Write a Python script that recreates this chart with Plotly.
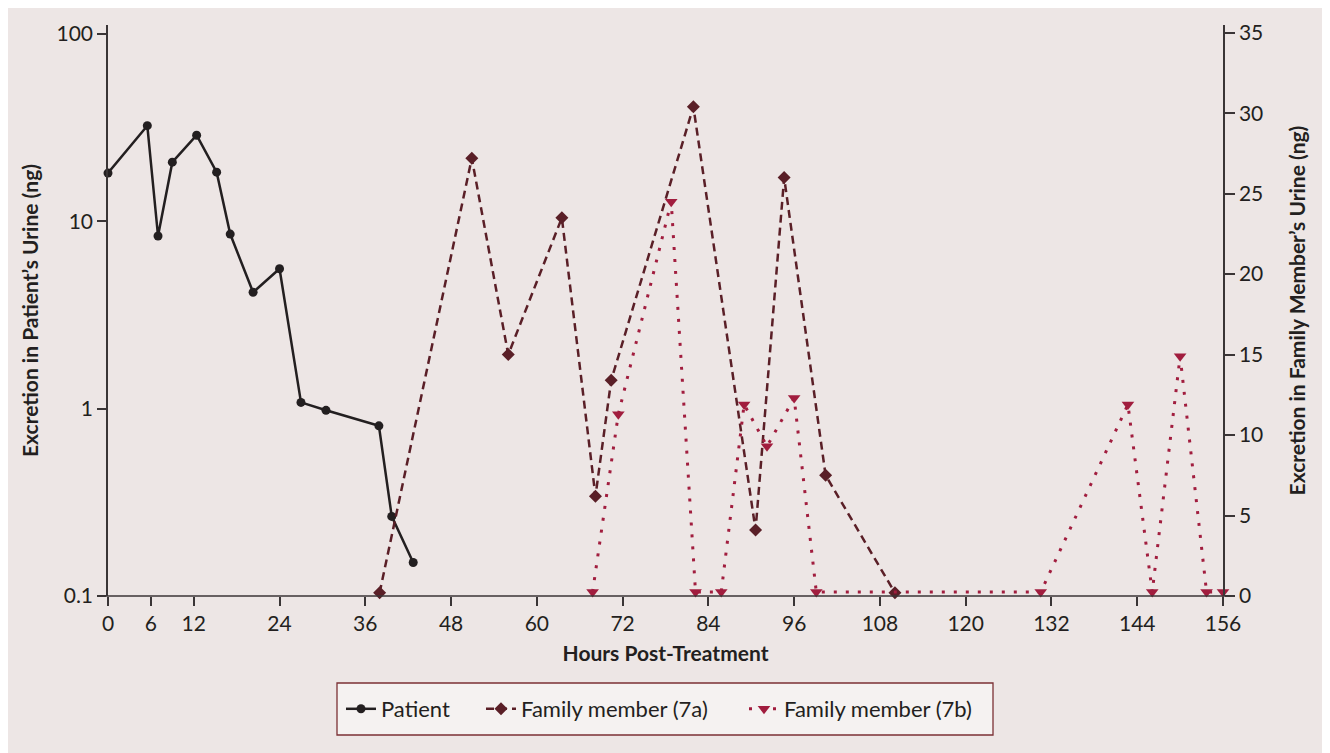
import plotly.graph_objects as go

# ---------------- data ----------------
patient_hours = [0, 5.5, 7, 9, 12.4, 15.2, 17.1, 20.3, 24, 27, 30.5, 37.9, 39.7, 42.7]
patient_ng = [18.1, 32.4, 8.35, 20.7, 28.8, 18.3, 8.55, 4.18, 5.58, 1.08, 0.98, 0.81, 0.266, 0.151]

fm7a_hours = [38, 50.9, 56, 63.5, 68.2, 70.4, 81.9, 90.6, 94.6, 100.4, 110.1]
fm7a_ng = [0.2, 27.2, 15.0, 23.5, 6.2, 13.4, 30.4, 4.1, 26.0, 7.5, 0.2]

fm7b_hours = [67.8, 71.4, 78.8, 82.2, 85.8, 89.0, 92.2, 96.0, 99.1, 130.5, 142.7, 146.1, 150.0, 153.7, 156.0]
fm7b_ng = [0.25, 11.3, 24.5, 0.25, 0.25, 11.9, 9.3, 12.3, 0.25, 0.25, 11.9, 0.25, 14.9, 0.25, 0.25]

x_ticks = [0, 6, 12, 24, 36, 48, 60, 72, 84, 96, 108, 120, 132, 144, 156]
left_ticks = [0.1, 1, 10, 100]
left_tick_text = ["0.1", "1", "10", "100"]
right_ticks = [0, 5, 10, 15, 20, 25, 30, 35]

# ---------------- style ----------------
BG = "#EDE6E5"
INK = "#231F20"
AX = "#3A3536"
C_PAT = "#231F20"
C_7A = "#5A1F27"
C_7B = "#A11D3E"
FONT = "Lato"

OFF = 8  # page offset of the figure (body margin)
W, H = 1330 - OFF, 753 - OFF
L, R, T, B = 100, 107, 17, 157
pw = W - L - R
ph = H - T - B

fig = go.Figure()

fig.add_trace(go.Scatter(
    x=patient_hours, y=patient_ng, name="Patient", mode="lines+markers",
    line=dict(color=C_PAT, width=2.5), marker=dict(color=C_PAT, size=9, symbol="circle"),
    yaxis="y", legend="legend", showlegend=True, cliponaxis=False))

fig.add_trace(go.Scatter(
    x=fm7a_hours, y=fm7a_ng, name="Family member (7a)", mode="lines+markers",
    line=dict(color=C_7A, width=2.5, dash="8px,5px"),
    marker=dict(color=C_7A, size=10, symbol="diamond"),
    yaxis="y2", legend="legend2", showlegend=True, cliponaxis=False))

fig.add_trace(go.Scatter(
    x=fm7b_hours, y=fm7b_ng, name="Family member (7b)", mode="lines+markers",
    line=dict(color=C_7B, width=3, dash="3px,9px"),
    marker=dict(color=C_7B, size=11, symbol="triangle-down"),
    yaxis="y2", legend="legend3", showlegend=True, cliponaxis=False))


def px_x(px):
    # px = window pixel
    return (px - OFF - L) / pw


def px_y(py):
    return (H - B - (py - OFF)) / ph


# legend box
fig.add_shape(type="rect", xref="paper", yref="paper",
              x0=px_x(337), x1=px_x(993), y0=px_y(735), y1=px_y(683),
              line=dict(color="#7B3135", width=1.3), fillcolor="#F5F2F1", layer="below")
# x baseline extending slightly beyond both y axes
fig.add_shape(type="line", xref="paper", yref="paper",
              x0=px_x(OFF + L - 9), x1=px_x(OFF + W - R + 9), y0=0, y1=0,
              line=dict(color=AX, width=1.5))

leg_common = dict(orientation="h", yanchor="middle", y=px_y(709), xanchor="left",
                  bgcolor="rgba(0,0,0,0)", borderwidth=0,
                  font=dict(family=FONT, size=22, color=INK), itemwidth=30)

fig.update_layout(
    width=W, height=H,
    margin=dict(l=L, r=R, t=T, b=B, autoexpand=False),
    paper_bgcolor=BG, plot_bgcolor=BG,
    font=dict(family=FONT, color=INK, size=20),
    hovermode=False,
    showlegend=True,
    legend=dict(x=px_x(383 - 42), **leg_common),
    legend2=dict(x=px_x(523 - 42), **leg_common),
    legend3=dict(x=px_x(786 - 42), **leg_common),
    xaxis=dict(
        range=[0, 156], tickvals=x_ticks, ticktext=[str(v) for v in x_ticks],
        showgrid=False, zeroline=False, showline=False,
        ticks="outside", ticklen=9, tickwidth=1.5, tickcolor=AX,
        tickfont=dict(family=FONT, size=21, color=INK),
        title=dict(text="<b>Hours Post-Treatment</b>", font=dict(family=FONT, size=21, color=INK), standoff=12),
    ),
    yaxis=dict(
        type="log", range=[-1, 2.048], tickvals=left_ticks, ticktext=left_tick_text,
        showgrid=False, zeroline=False, showline=True, linecolor=AX, linewidth=1.5,
        ticks="outside", ticklen=9, tickwidth=1.5, tickcolor=AX,
        tickfont=dict(family=FONT, size=21, color=INK),
        title=dict(text="<b>Excretion in Patient’s Urine (ng)</b>", font=dict(family=FONT, size=21, color=INK), standoff=12),
    ),
    yaxis2=dict(
        overlaying="y", side="right", range=[0, 35.48], tickvals=right_ticks,
        showgrid=False, zeroline=False, showline=True, linecolor=AX, linewidth=1.5,
        ticks="outside", ticklen=10, tickwidth=1.5, tickcolor=AX,
        tickfont=dict(family=FONT, size=21, color=INK),
        title=dict(text="<b>Excretion in Family Member’s Urine (ng)</b>", font=dict(family=FONT, size=21, color=INK), standoff=28),
    ),
)

fig.write_html("out.html")
